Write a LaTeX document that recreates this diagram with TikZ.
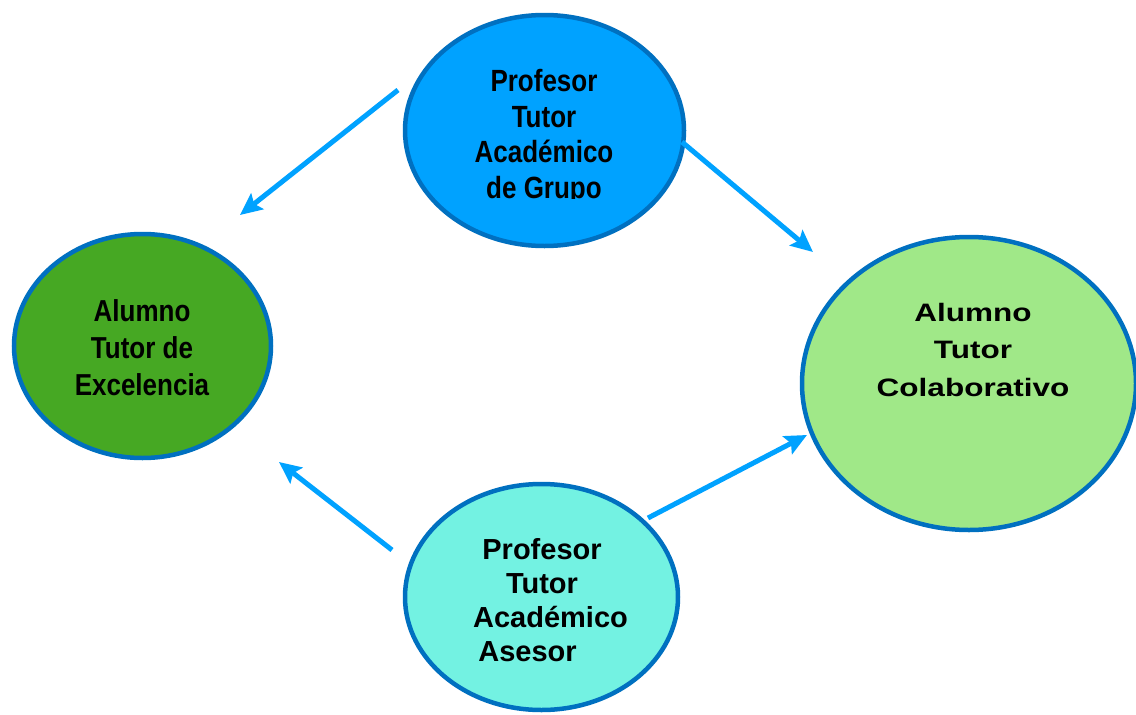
\documentclass[tikz,border=0pt]{standalone}
\usepackage{fontspec}
\setmainfont{Liberation Sans}
\usetikzlibrary{shapes.geometric,arrows.meta}
\definecolor{rimblue}{RGB}{0,112,192}
\definecolor{topfill}{RGB}{0,162,255}
\definecolor{leftfill}{RGB}{70,168,35}
\definecolor{rightfill}{RGB}{160,232,136}
\definecolor{botfill}{RGB}{115,242,226}
\definecolor{arrowblue}{RGB}{0,162,255}
\tikzset{
  bubble/.style={ellipse, draw=rimblue, line width=4.5pt, inner sep=0pt},
  label/.style={inner sep=0pt, text=black},
  flow/.style={draw=arrowblue, line width=5pt,
    -{Stealth[length=22pt,width=20pt,inset=4pt]}}
}
\newcommand{\lines}[4]{\scalebox{1}[#3]{\fontsize{#1}{#2}\selectfont\bfseries\begin{tabular}{@{}c@{}}#4\end{tabular}}}
\begin{document}
\begin{tikzpicture}[x=1pt,y=-1pt]
\useasboundingbox (0,0) rectangle (1136,715);
\fill[white] (0,0) rectangle (1136,715);

% ellipses
\node[bubble, fill=topfill, minimum width=279pt, minimum height=231pt] (top) at (544.5,130.5) {};
\node[bubble, fill=leftfill, minimum width=257pt, minimum height=224pt] (left) at (142.5,346) {};
\node[bubble, fill=rightfill, minimum width=334pt, minimum height=293pt] (right) at (969,383.5) {};
\node[bubble, fill=botfill, minimum width=273pt, minimum height=226pt] (bottom) at (541.5,597) {};

% labels
\begin{scope}
  \clip (0,0) rectangle (1136,198);
  \node[label] (toplabel) at (544,137.8) {\lines{26}{30.5}{1.18}{Profesor\\Tutor\\Académico\\de Grupo}};
\end{scope}
\node[label] (leftlabel) at (142,351) {\lines{26}{31.5}{1.165}{Alumno\\Tutor de\\Excelencia}};
\node[label] (rightlabel) at (973,351.4) {\lines{31.5}{46.6}{0.80}{Alumno\\Tutor\\Colaborativo}};
\node[label] (botlabel) at (542,604) {\lines{29}{34}{1}{Profesor\\Tutor\\\hspace*{17pt}Académico\\Asesor\hspace*{29pt}}};

% arrow ends
\coordinate (a1s) at (398,90);
\coordinate (a1e) at (240,215);
\coordinate (a2s) at (682,142);
\coordinate (a2e) at (813,252);
\coordinate (a3s) at (392,550);
\coordinate (a3e) at (279,462);
\coordinate (a4s) at (648,518);
\coordinate (a4e) at (807,435);

\draw[flow] (a1s) -- (a1e);
\draw[flow] (a2s) -- (a2e);
\draw[flow] (a3s) -- (a3e);
\draw[flow] (a4s) -- (a4e);
\end{tikzpicture}
\end{document}
